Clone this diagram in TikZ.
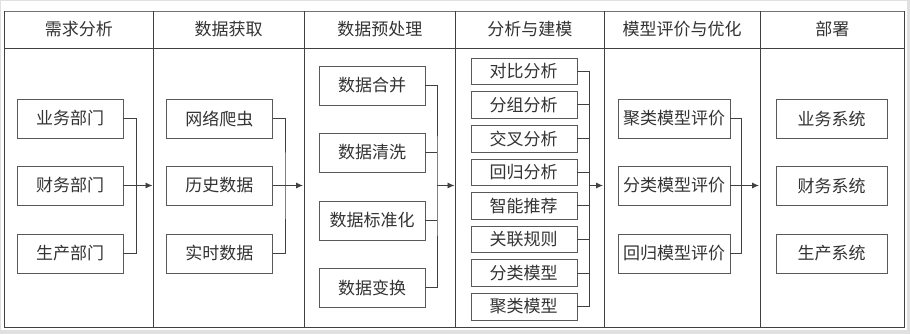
\documentclass[tikz,border=0pt]{standalone}
\usepackage{fontspec}
\setmainfont{Noto Sans CJK SC}
\usetikzlibrary{arrows.meta}

\begin{document}
\begin{tikzpicture}[x=1pt,y=-1pt,>={Latex[length=7pt,width=6pt]},
  box/.style={draw=black!65,minimum height=39pt,inner sep=0pt,text=black!80,font=\fontsize{17}{19}\selectfont},
  smallbox/.style={box,minimum height=26.5pt,minimum width=106pt},
  head/.style={text=black!80,font=\fontsize{17}{19}\selectfont},
  link/.style={draw=black!75,line width=0.8pt}]
  \useasboundingbox (0,0) rectangle (910,334);
  \fill[black!12] (0,0) rectangle (910,334);
  \fill[white] (1,1) rectangle (907,330);
  % lanes
  \draw[black!55,line width=0.8pt] (4.5,11)--(904.5,11);
  \draw[black!75,line width=0.8pt] (4.5,11)--(4.5,327)--(904.5,327)--(904.5,11);
  \draw[black!75,line width=0.8pt] (4.5,48)--(904.5,48);
  \foreach \x in {153,304,455.5,604,760}
    \draw[black!75,line width=0.8pt] (\x,11)--(\x,327);
  \node[head] (h1) at (78.75,29) {需求分析};
  \node[head] (h2) at (228.5,29) {数据获取};
  \node[head] (h3) at (379.75,29) {数据预处理};
  \node[head] (h4) at (529.75,29) {分析与建模};
  \node[head] (h5) at (682,29) {模型评价与优化};
  \node[head] (h6) at (832.25,29) {部署};
  % boxes
  \node[box,minimum width=106pt] (a1) at (70,118.5) {业务部门};
  \node[box,minimum width=106pt] (a2) at (70,185.5) {财务部门};
  \node[box,minimum width=106pt] (a3) at (70,253.5) {生产部门};
  \node[box,minimum width=106.7pt] (b1) at (219.3,118.5) {网络爬虫};
  \node[box,minimum width=106.7pt] (b2) at (219.3,185.5) {历史数据};
  \node[box,minimum width=106.7pt] (b3) at (219.3,253.5) {实时数据};
  \node[box,minimum width=106pt] (c1) at (372,85.5) {数据合并};
  \node[box,minimum width=106pt] (c2) at (372,152.5) {数据清洗};
  \node[box,minimum width=106pt] (c3) at (372,220.5) {数据标准化};
  \node[box,minimum width=106pt] (c4) at (372,287.5) {数据变换};
  \node[smallbox] (d1) at (523.7,71.3) {对比分析};
  \node[smallbox] (d2) at (523.7,104.9) {分组分析};
  \node[smallbox] (d3) at (523.7,138.5) {交叉分析};
  \node[smallbox] (d4) at (523.7,172.1) {回归分析};
  \node[smallbox] (d5) at (523.7,205.7) {智能推荐};
  \node[smallbox] (d6) at (523.7,239.3) {关联规则};
  \node[smallbox] (d7) at (523.7,272.9) {分类模型};
  \node[smallbox] (d8) at (523.7,306.5) {聚类模型};
  \node[box,minimum width=112pt] (e1) at (674,118.5) {聚类模型评价};
  \node[box,minimum width=112pt] (e2) at (674,185.5) {分类模型评价};
  \node[box,minimum width=112pt] (e3) at (674,253.5) {回归模型评价};
  \node[box,minimum width=111pt] (f1) at (831.5,118.5) {业务系统};
  \node[box,minimum width=111pt] (f2) at (831.5,185.5) {财务系统};
  \node[box,minimum width=111pt] (f3) at (831.5,253.5) {生产系统};
  % connectors
  \coordinate (bus1) at (136.7,185.5);
  \coordinate (bus2) at (285,185.5);
  \coordinate (bus3) at (437,185.5);
  \coordinate (bus4) at (589.3,185.5);
  \coordinate (bus5) at (741.7,185.5);
  \coordinate (t1) at (152.5,185.5);
  \coordinate (t2) at (303,185.5);
  \coordinate (t3) at (454.5,185.5);
  \coordinate (t4) at (603,185.5);
  \coordinate (t5) at (759,185.5);
  \draw[link] (a1.east) -| (bus1) |- (a3.east);
  \draw[link,->] (a2.east) -- (t1);
  \draw[link] (b1.east) -| (bus2) |- (b3.east);
  \draw[link,->] (b2.east) -- (t2);
  \draw[link] (c1.east) -| (bus3) |- (c4.east);
  \draw[link] (c2.east) -- (c2.east -| bus3);
  \draw[link] (c3.east) -- (c3.east -| bus3);
  \draw[link,->] (bus3) -- (t3);
  \draw[link] (d1.east) -| (bus4) |- (d8.east);
  \draw[link] (d2.east) -- (d2.east -| bus4);
  \draw[link] (d3.east) -- (d3.east -| bus4);
  \draw[link] (d4.east) -- (d4.east -| bus4);
  \draw[link] (d5.east) -- (d5.east -| bus4);
  \draw[link] (d6.east) -- (d6.east -| bus4);
  \draw[link] (d7.east) -- (d7.east -| bus4);
  \draw[link,->] (bus4) -- (t4);
  \draw[link] (e1.east) -| (bus5) |- (e3.east);
  \draw[link,->] (e2.east) -- (t5);
\end{tikzpicture}
\end{document}
